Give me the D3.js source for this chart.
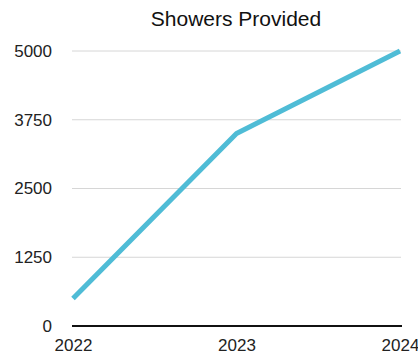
<!DOCTYPE html>
<html><head><meta charset="utf-8">
<script src="https://cdn.jsdelivr.net/npm/d3@7"></script>
<style>body{margin:0;background:#fff;}svg{display:block;font-family:"Liberation Sans",Arial,sans-serif;}</style>
</head><body><svg id="c" width="418" height="356"></svg>
<script>
const years = ["2022", "2023", "2024"];
const showers = [500, 3500, 5000];
const yTicks = [0, 1250, 2500, 3750, 5000];
const title = "Showers Provided";

const svg = d3.select("#c");
const x = d3.scalePoint().domain(years).range([73, 400]);
const y = d3.scaleLinear().domain([0, 5000]).range([326, 51]);

svg.append("text").attr("x", 236).attr("y", 26).attr("text-anchor", "middle")
  .attr("font-size", 21).attr("fill", "#111").text(title);

const yAxis = d3.axisLeft(y).tickValues(yTicks).tickFormat(d3.format("d")).tickSize(0).tickPadding(20);
const gy = svg.append("g").attr("transform", "translate(72,0)").call(yAxis);
gy.select(".domain").remove();
gy.selectAll("text").attr("font-size", 17).attr("fill", "#222").attr("font-family", "Liberation Sans, Arial, sans-serif");

svg.append("g").selectAll("line").data(yTicks.filter(d => d > 0)).join("line")
  .attr("x1", 72).attr("x2", 401).attr("y1", d => y(d)).attr("y2", d => y(d))
  .attr("stroke", "#d6d6d6").attr("stroke-width", 1);

const xAxis = d3.axisBottom(x).tickSize(0).tickPadding(13);
const gx = svg.append("g").attr("transform", `translate(0,${y(0)})`).call(xAxis);
gx.select(".domain").remove();
gx.selectAll("text").attr("font-size", 17).attr("fill", "#222").attr("font-family", "Liberation Sans, Arial, sans-serif");

svg.append("line").attr("x1", 72).attr("x2", 402).attr("y1", y(0)).attr("y2", y(0))
  .attr("stroke", "#111").attr("stroke-width", 2);

const line = d3.line().x((d, i) => x(years[i])).y(d => y(d));
svg.append("path").datum(showers).attr("d", line).attr("fill", "none")
  .attr("stroke", "#4fbcd6").attr("stroke-width", 5).attr("stroke-linejoin", "round").attr("stroke-linecap", "butt");
</script></body></html>
